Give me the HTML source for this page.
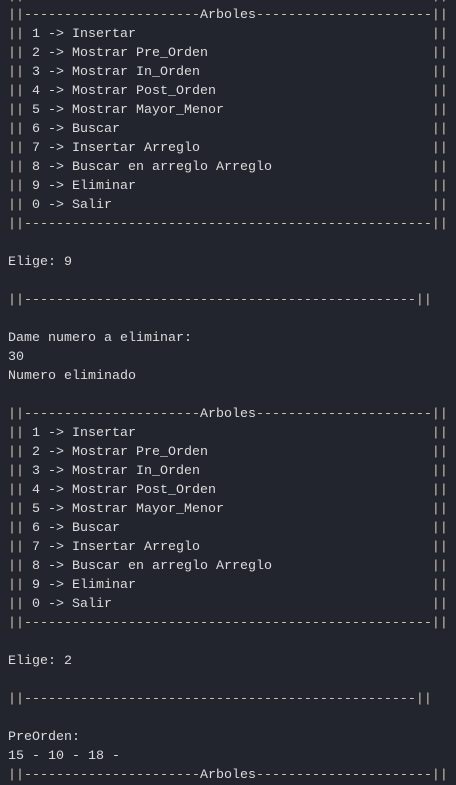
<!DOCTYPE html>
<html><head><meta charset="utf-8"><style>
html,body{margin:0;padding:0;background:#22252e;width:456px;height:770px;overflow:hidden}
#t{position:absolute;left:8px;top:-13px;font-family:"Liberation Mono",monospace;font-size:13.333px;line-height:19px;color:#dcdcdc}
.l{position:relative;height:19px;white-space:pre}
.b{color:#cfc6ad}
.r{position:absolute;left:53ch;top:0;color:#cfc6ad}
</style></head><body><div id="t">
<div class="l"><span class="b">||</span><span class="r">||</span></div>
<div class="l"><span class="b">||----------------------</span>Arboles<span class="b">----------------------||</span></div>
<div class="l"><span class="b">||</span> 1 -&gt; Insertar<span class="r">||</span></div>
<div class="l"><span class="b">||</span> 2 -&gt; Mostrar Pre_Orden<span class="r">||</span></div>
<div class="l"><span class="b">||</span> 3 -&gt; Mostrar In_Orden<span class="r">||</span></div>
<div class="l"><span class="b">||</span> 4 -&gt; Mostrar Post_Orden<span class="r">||</span></div>
<div class="l"><span class="b">||</span> 5 -&gt; Mostrar Mayor_Menor<span class="r">||</span></div>
<div class="l"><span class="b">||</span> 6 -&gt; Buscar<span class="r">||</span></div>
<div class="l"><span class="b">||</span> 7 -&gt; Insertar Arreglo<span class="r">||</span></div>
<div class="l"><span class="b">||</span> 8 -&gt; Buscar en arreglo Arreglo<span class="r">||</span></div>
<div class="l"><span class="b">||</span> 9 -&gt; Eliminar<span class="r">||</span></div>
<div class="l"><span class="b">||</span> 0 -&gt; Salir<span class="r">||</span></div>
<div class="l"><span class="b">||---------------------------------------------------||</span></div>
<div class="l"></div>
<div class="l">Elige: 9</div>
<div class="l"></div>
<div class="l"><span class="b">||-------------------------------------------------||</span></div>
<div class="l"></div>
<div class="l">Dame numero a eliminar:</div>
<div class="l">30</div>
<div class="l">Numero eliminado</div>
<div class="l"></div>
<div class="l"><span class="b">||----------------------</span>Arboles<span class="b">----------------------||</span></div>
<div class="l"><span class="b">||</span> 1 -&gt; Insertar<span class="r">||</span></div>
<div class="l"><span class="b">||</span> 2 -&gt; Mostrar Pre_Orden<span class="r">||</span></div>
<div class="l"><span class="b">||</span> 3 -&gt; Mostrar In_Orden<span class="r">||</span></div>
<div class="l"><span class="b">||</span> 4 -&gt; Mostrar Post_Orden<span class="r">||</span></div>
<div class="l"><span class="b">||</span> 5 -&gt; Mostrar Mayor_Menor<span class="r">||</span></div>
<div class="l"><span class="b">||</span> 6 -&gt; Buscar<span class="r">||</span></div>
<div class="l"><span class="b">||</span> 7 -&gt; Insertar Arreglo<span class="r">||</span></div>
<div class="l"><span class="b">||</span> 8 -&gt; Buscar en arreglo Arreglo<span class="r">||</span></div>
<div class="l"><span class="b">||</span> 9 -&gt; Eliminar<span class="r">||</span></div>
<div class="l"><span class="b">||</span> 0 -&gt; Salir<span class="r">||</span></div>
<div class="l"><span class="b">||---------------------------------------------------||</span></div>
<div class="l"></div>
<div class="l">Elige: 2</div>
<div class="l"></div>
<div class="l"><span class="b">||-------------------------------------------------||</span></div>
<div class="l"></div>
<div class="l">PreOrden:</div>
<div class="l">15 - 10 - 18 -</div>
<div class="l"><span class="b">||----------------------</span>Arboles<span class="b">----------------------||</span></div>
</div></body></html>
